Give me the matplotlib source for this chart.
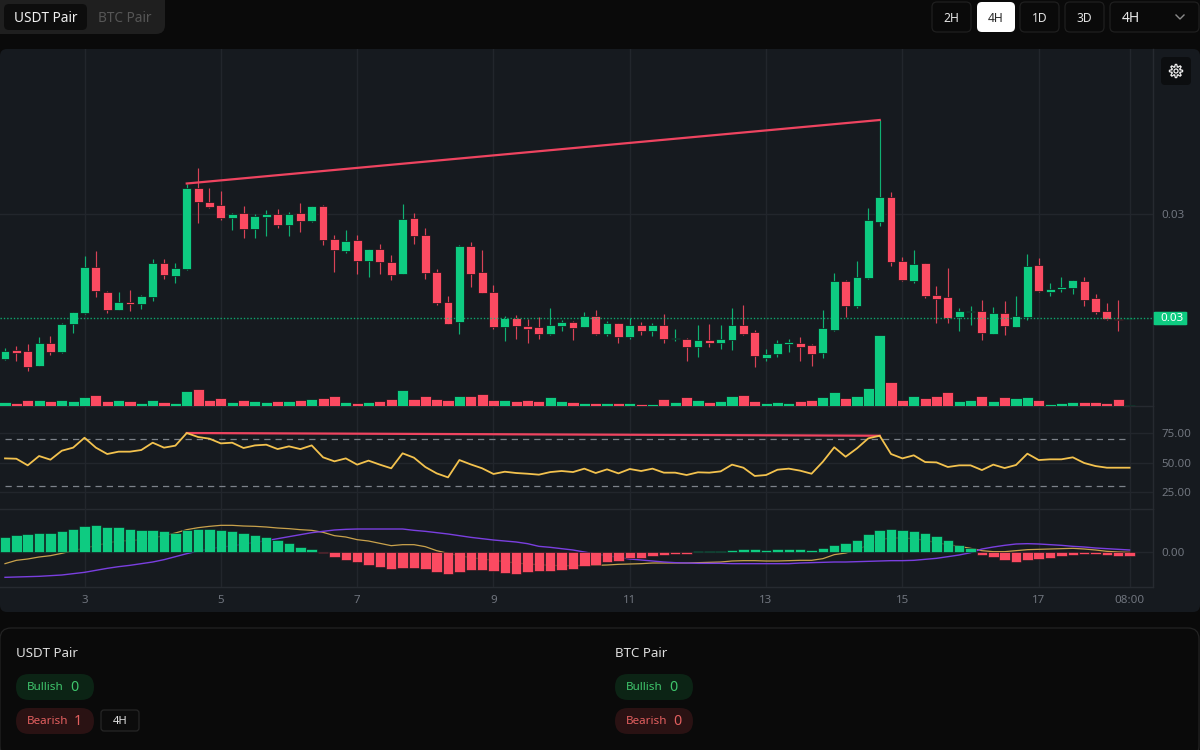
import numpy as np
import matplotlib
matplotlib.use("Agg")
import matplotlib.pyplot as plt
from matplotlib.patches import FancyBboxPatch, Polygon, Circle

plt.rcParams["font.family"] = ["Noto Sans", "DejaVu Sans"]

# prices are in units of 0.00001
PRICE_UNIT = 1e-5

opens = [2710, 2729, 2725, 2697, 2742, 2725, 2780, 2802, 2894, 2845, 2808, 2825, 2821, 2834, 2902, 2877, 2891, 3053, 3025, 3018,
         2993, 3003, 2970, 2994, 3001, 2979, 3003, 2986, 3016, 2950, 2926, 2948, 2906, 2931, 2905, 2881, 2992, 2958, 2885, 2825,
         2784, 2936, 2885, 2845, 2774, 2793, 2776, 2774, 2760, 2776, 2785, 2774, 2796, 2761, 2783, 2755, 2779, 2767, 2778, 2750,
         2751, 2735, 2748, 2742, 2748, 2779, 2764, 2712, 2721, 2741, 2743, 2738, 2723, 2768, 2866, 2817, 2872, 2985, 3035, 2906,
         2866, 2902, 2838, 2834, 2795, 2804, 2806, 2761, 2802, 2774, 2795, 2898, 2845, 2851, 2853, 2866, 2832, 2806, 2791, 2790]
highs = [2733, 2736, 2740, 2755, 2757, 2783, 2804, 2916, 2926, 2847, 2845, 2849, 2839, 2911, 2911, 2902, 3061, 3092, 3052, 3046,
         3003, 3016, 3001, 3009, 3011, 3005, 3022, 3016, 3018, 2958, 2969, 2959, 2931, 2941, 2919, 3021, 3003, 2973, 2890, 2836,
         2938, 2945, 2929, 2858, 2796, 2798, 2791, 2795, 2812, 2788, 2787, 2804, 2808, 2787, 2783, 2793, 2785, 2783, 2800, 2770,
         2753, 2779, 2781, 2778, 2813, 2819, 2768, 2731, 2748, 2750, 2755, 2741, 2809, 2883, 2869, 2906, 3013, 3188, 3045, 2915,
         2928, 2902, 2857, 2893, 2813, 2817, 2828, 2815, 2827, 2836, 2921, 2913, 2862, 2874, 2868, 2874, 2840, 2823, 2828, 2792]
lows = [2708, 2706, 2687, 2697, 2719, 2723, 2763, 2800, 2834, 2803, 2808, 2806, 2810, 2826, 2870, 2862, 2888, 2983, 3012, 2989,
        2968, 2952, 2952, 2956, 2973, 2956, 2964, 2984, 2939, 2885, 2923, 2881, 2875, 2881, 2868, 2880, 2940, 2870, 2819, 2780,
        2760, 2854, 2843, 2770, 2746, 2750, 2742, 2751, 2758, 2766, 2748, 2774, 2758, 2756, 2742, 2750, 2759, 2757, 2742, 2746,
        2706, 2714, 2735, 2730, 2729, 2759, 2695, 2706, 2714, 2725, 2706, 2697, 2713, 2767, 2795, 2813, 2870, 2977, 2897, 2866,
        2862, 2832, 2783, 2783, 2766, 2778, 2748, 2761, 2759, 2774, 2789, 2845, 2836, 2845, 2841, 2817, 2800, 2789, 2767, 2790]
closes = [2727, 2723, 2695, 2742, 2725, 2781, 2804, 2894, 2846, 2808, 2824, 2821, 2836, 2902, 2878, 2892, 3052, 3025, 3015, 2993,
          3001, 2970, 2996, 3001, 2979, 3001, 2987, 3016, 2949, 2929, 2947, 2907, 2930, 2904, 2879, 2990, 2957, 2883, 2823, 2781,
          2936, 2881, 2843, 2774, 2793, 2776, 2770, 2761, 2778, 2785, 2772, 2797, 2761, 2783, 2755, 2779, 2767, 2778, 2750, 2753,
          2735, 2748, 2742, 2750, 2779, 2761, 2716, 2721, 2742, 2744, 2734, 2721, 2772, 2866, 2816, 2874, 2988, 3035, 2904, 2868,
          2900, 2836, 2830, 2793, 2806, 2806, 2763, 2802, 2776, 2796, 2896, 2847, 2851, 2855, 2868, 2829, 2804, 2791, 2789, 2792]
volumes = [12, 9, 17, 18, 15, 18, 15, 26, 34, 15, 18, 15, 9, 18, 12, 9, 45, 51, 18, 23,
           12, 18, 15, 12, 15, 15, 18, 21, 24, 29, 12, 9, 12, 15, 21, 48, 20, 31, 20, 17,
           31, 31, 37, 17, 17, 15, 17, 15, 26, 15, 12, 9, 9, 9, 9, 9, 6, 6, 20, 12,
           28, 17, 12, 15, 31, 34, 15, 9, 12, 8, 15, 18, 26, 42, 23, 31, 54, 214, 73, 17,
           31, 23, 31, 42, 14, 17, 31, 14, 26, 23, 28, 17, 6, 9, 12, 12, 12, 9, 20, 3]
rsi = [53.5, 53.2, 47.6, 55.5, 52.4, 60.0, 62.6, 71.0, 62.6, 57.2, 59.2, 59.2, 60.6, 66.8, 62.6, 64.3, 75.0, 71.6, 70.2, 66.2,
       66.8, 62.3, 64.5, 65.1, 61.4, 63.7, 61.4, 64.5, 54.4, 51.0, 53.5, 48.2, 51.6, 48.2, 45.1, 57.8, 54.1, 46.2, 40.8, 37.4,
       52.1, 48.4, 45.1, 40.3, 42.2, 41.1, 40.5, 39.7, 41.9, 42.8, 41.9, 44.8, 41.1, 44.2, 40.8, 44.5, 42.8, 44.8, 41.4, 41.4,
       39.4, 41.7, 41.4, 42.5, 48.2, 45.6, 38.6, 39.4, 43.9, 44.8, 43.1, 40.5, 50.7, 62.9, 54.9, 62.0, 70.5, 72.7, 57.2, 53.5,
       56.1, 50.4, 50.1, 46.2, 47.6, 47.6, 43.6, 48.2, 45.3, 47.9, 57.5, 52.1, 52.7, 52.7, 54.4, 49.6, 47.0, 45.6, 45.6, 45.6]
macd_hist = [43, 49, 52, 57, 57, 63, 68, 77, 80, 74, 74, 69, 66, 66, 63, 57, 66, 69, 69, 66,
             63, 55, 49, 43, 35, 27, 15, 9, -4, -17, -24, -32, -39, -47, -53, -50, -48, -51, -60, -68,
             -60, -54, -54, -59, -63, -66, -62, -59, -57, -54, -51, -43, -39, -32, -29, -20, -18, -12, -9, -6,
             -6, 2, 2, 3, 6, 9, 7, 4, 7, 7, 9, 6, 12, 21, 27, 35, 52, 66, 69, 66,
             63, 55, 46, 35, 21, 10, -11, -17, -25, -30, -24, -22, -19, -14, -11, -8, -8, -11, -14, -14]
macd_line = [-36, -26, -22, -16, -12, -5, 3, 11, 18, 26, 32, 33, 36, 41, 48, 56, 66, 72, 76, 79,
             79, 77, 76, 74, 71, 69, 66, 64, 58, 48, 44, 36, 32, 25, 18, 21, 21, 15, 3, -5,
             -12, -18, -22, -26, -30, -34, -37, -39, -41, -42, -42, -41, -41, -40, -38, -37, -36, -34, -34, -34,
             -34, -33, -32, -31, -28, -27, -27, -28, -28, -27, -26, -26, -21, -9, -4, 5, 21, 36, 41, 41,
             39, 34, 27, 21, 16, 10, 3, 0, 0, 3, 6, 7, 8, 9, 10, 8, 5, 1, -1, -2]
macd_signal = [-77, -76, -75, -74, -72, -70, -66, -62, -56, -50, -45, -41, -36, -31, -24, -15, -6, 2, 8, 14,
               17, 23, 28, 33, 39, 45, 51, 57, 61, 65, 67, 68, 68, 68, 68, 68, 64, 61, 57, 53,
               48, 43, 39, 35, 32, 29, 24, 16, 13, 9, 5, -1, -7, -12, -17, -22, -25, -28, -31, -33,
               -34, -35, -35, -35, -36, -36, -36, -36, -36, -36, -34, -33, -32, -31, -31, -30, -29, -28, -27, -27,
               -26, -23, -20, -15, -10, -3, 8, 14, 19, 23, 24, 23, 21, 19, 16, 14, 11, 9, 7, 5]

time_ticks = [7, 19, 31, 43, 55, 67, 79, 91, 99]
time_labels = ["3", "5", "7", "9", "11", "13", "15", "17", "08:00"]
rsi_ticks = [75, 50, 25]
rsi_bands = [70, 30]
divergence_bars = [16, 77]

GREEN = "#0ecb81"
RED = "#fb4a61"
PANEL = "#161a1f"
PAGE = "#0a0a0a"
GRID = "#22262c"
LABEL = "#70757e"

W, H = 1200, 750
fig = plt.figure(figsize=(12, 7.5), dpi=100, facecolor=PAGE)


def px_axes(left, top, right, bottom, **kw):
    return fig.add_axes([left / W, 1 - bottom / H, (right - left) / W, (bottom - top) / H], **kw)


# page chrome drawn in pixel coordinates
ui = px_axes(0, 0, W, H, zorder=-1)
ui.set_xlim(0, W)
ui.set_ylim(H, 0)
ui.axis("off")


def box(x0, y0, x1, y1, face, edge="none", r=5, lw=0.9):
    ui.add_patch(FancyBboxPatch((x0 + r, y0 + r), x1 - x0 - 2 * r, y1 - y0 - 2 * r,
                                boxstyle=f"round,pad={r},rounding_size={r}",
                                fc=face, ec=edge, lw=lw))


def label(x, y, s, color, size=8.7, ha="center"):
    ui.text(x, y + 1.2, s, color=color, fontsize=size, ha=ha, va="center")


box(-12, -12, 165, 34, "#1f1f1f", r=9)
box(4, 4, 87, 30, "#0d0d0d", r=5)
label(45.5, 17, "USDT Pair", "#f0f0f0", 9.8)
label(125, 17, "BTC Pair", "#565656", 9.8)

for x0, x1, s in [(932, 971, "2H"), (1020, 1059, "1D"), (1065, 1104, "3D")]:
    box(x0, 2, x1, 32, PAGE, "#1f1f1f")
    label((x0 + x1) / 2, 17, s, "#e4e4e4")
box(977, 2, 1015, 32, "#ffffff", r=5)
label(996, 17, "4H", "#2a2a2a")
box(1110, 2, 1199, 32, PAGE, "#1f1f1f")
label(1122, 17, "4H", "#e8e8e8", 10, ha="left")
ui.plot([1176, 1180, 1184], [15, 19, 15], color="#8a8a8a", lw=1)

box(0, 49, 1200, 612, PANEL, r=7)

# bottom summary card
box(0, 628, 1199, 757, PAGE, "#232323", r=11)
for x0, title in [(16, "USDT Pair"), (615, "BTC Pair")]:
    label(x0, 652, title, "#dddddd", 9.6, ha="left")
    box(x0, 674, x0 + 78, 700, "#0c2415", r=13)
    label(x0 + 11, 686, "Bullish", "#3fc56c", 8.4, ha="left")
    label(x0 + 58, 686.5, "0", "#3fc56c", 10.2)
    box(x0, 708, x0 + 78, 734, "#2a1213", r=13)
    label(x0 + 11, 720, "Bearish", "#e25f5f", 8.4, ha="left")
label(78, 720.5, "1", "#e25f5f", 10.2)
label(677, 720.5, "0", "#e25f5f", 10.2)
box(101, 710, 139, 731, "#0c0c0c", "#262626", r=3)
label(120, 720, "4H", "#e0e0e0", 8)

# settings gear
box(1161, 57, 1191, 85, "#0c0e10", r=4)
angles = np.linspace(0, 2 * np.pi, 64, endpoint=False)
radius = 5.4 + 1.2 * np.clip(4 * np.cos(8 * angles), -1, 1)
ui.add_patch(Polygon(np.c_[1176 + radius * np.cos(angles), 71 + radius * np.sin(angles)],
                     closed=True, fc="none", ec="#eeeeee", lw=0.9))
ui.add_patch(Circle((1176, 71), 2, fc="none", ec="#eeeeee", lw=0.9))

# chart panes
ax = px_axes(0, 49, 1153, 406)
ax_rsi = px_axes(0, 406, 1153, 509, sharex=ax)
ax_macd = px_axes(0, 509, 1153, 587, sharex=ax)

bars = np.arange(len(closes))
o = np.array(opens) * PRICE_UNIT
h = np.array(highs) * PRICE_UNIT
l = np.array(lows) * PRICE_UNIT
c = np.array(closes) * PRICE_UNIT
colors = [GREEN if a >= b else RED for a, b in zip(closes, opens)]

ax.vlines(bars, l, h, colors=colors, lw=0.85, alpha=0.85, zorder=3)
ax.bar(bars, np.abs(c - o), bottom=np.minimum(o, c), width=0.78, color=colors,
       edgecolor="#101317", lw=0.5, zorder=4)
ax.axhline(c[-1], color=GREEN, lw=1, ls=(0, (1, 1.4)), alpha=0.8, zorder=5)
ax.plot(divergence_bars, h[divergence_bars], color="#ef4460", lw=1.6, zorder=6)
ax.set_ylim(2616 * PRICE_UNIT, 3330 * PRICE_UNIT)
ax.set_yticks([0.03])
ax.set_yticklabels(["0.03"])

ax_vol = ax.twinx()
ax_vol.bar(bars, volumes, width=0.98, color=colors, edgecolor="#101317", lw=0.5)
ax_vol.set_ylim(0, 1071)
ax_vol.axis("off")

ax_rsi.hlines(rsi_bands, bars[0], bars[-1], color="#7d828a", lw=0.9, linestyles=[(0, (5, 4))])
ax_rsi.plot(bars, rsi, color="#f3c24e", lw=1.3, zorder=4)
ax_rsi.plot(divergence_bars, [rsi[i] for i in divergence_bars], color="#ef4460", lw=1.6, zorder=3)
ax_rsi.set_ylim(10.6, 97.9)
ax_rsi.set_yticks(rsi_ticks)
ax_rsi.set_yticklabels([f"{v:.2f}" for v in rsi_ticks])

ax_macd.plot(bars, macd_line, color="#c9a24c", lw=0.9, zorder=2)
ax_macd.plot(bars, macd_signal, color="#7a3fe0", lw=1, zorder=2)
ax_macd.bar(bars, macd_hist, width=0.92, color=[GREEN if v >= 0 else RED for v in macd_hist],
            edgecolor="#101317", lw=0.4, zorder=3)
ax_macd.set_ylim(-106, 128)
ax_macd.set_yticks([0])
ax_macd.set_yticklabels(["0.00"])

ax.set_xlim(-0.44, 101.06)
ax_macd.set_xticks(time_ticks)
ax_macd.set_xticklabels(time_labels)

for a in (ax, ax_rsi, ax_macd):
    a.patch.set_visible(False)
    a.yaxis.tick_right()
    a.grid(True, color=GRID, lw=1)
    a.set_axisbelow(True)
    a.tick_params(length=0, labelcolor=LABEL, labelsize=8.3, pad=6)
    for name, spine in a.spines.items():
        spine.set_visible(name in ("right", "bottom"))
        spine.set_color("#262a30")
        spine.set_linewidth(1)
ax.tick_params(axis="x", labelbottom=False)
ax_rsi.tick_params(axis="x", labelbottom=False)
ax_macd.tick_params(axis="x", labelsize=8.3, pad=6)
for t in ax_macd.get_xticklabels()[:-1]:
    t.set_fontweight("semibold")

# current price tag sits above the pane border
tag = px_axes(1153, 311, 1188, 326, zorder=5)
tag.set_xlim(0, 1)
tag.set_ylim(0, 1)
tag.axis("off")
tag.add_patch(FancyBboxPatch((0.02, 0.05), 0.96, 0.9, boxstyle="round,pad=0,rounding_size=0.05",
                             fc=GREEN, ec="none"))
tag.text(0.54, 0.47, "0.03", color="#ffffff", fontsize=8.3, ha="center", va="center")

fig.savefig("out.png", dpi=100, facecolor=PAGE)
plt.close(fig)
